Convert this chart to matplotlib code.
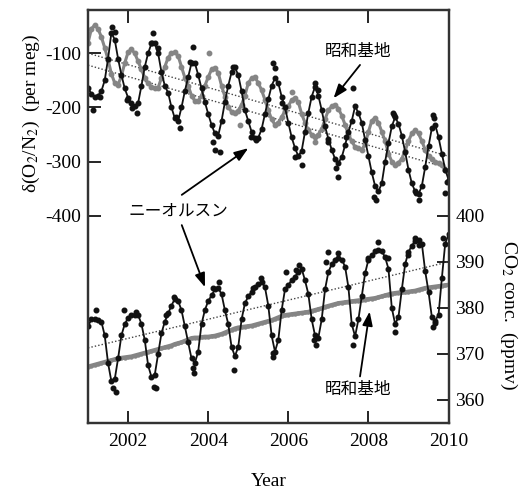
import matplotlib.pyplot as plt
import numpy as np

plt.rcParams["font.family"] = ["Liberation Serif"]
plt.rcParams["mathtext.fontset"] = "stix"
plt.rcParams["axes.unicode_minus"] = False

# monthly time axis, Jan 2001 .. Jan 2010
months = np.arange(109)
t = 2001 + months / 12

# fitted curves
ny_o2 = [
    -164, -175, -180, -178, -170, -150, -110, -62, -75, -110, -140, -165,
    -182, -192, -198, -192, -160, -125, -100, -82, -82, -100, -135, -160,
    -173, -200, -220, -225, -200, -170, -144, -118, -118, -140, -165, -190,
    -212, -232, -248, -252, -225, -190, -160, -135, -126, -140, -170, -205,
    -225, -245, -256, -256, -240, -212, -185, -160, -146, -155, -180, -200,
    -228, -255, -275, -290, -280, -245, -210, -180, -162, -178, -205, -235,
    -258, -278, -295, -302, -292, -270, -245, -225, -198, -210, -228, -260,
    -290, -320, -345, -355, -340, -300, -266, -235, -218, -230, -252, -282,
    -315, -340, -355, -360, -345, -310, -272, -238, -232, -255, -285, -315,
    -333,
]
syowa_o2 = [
    -81, -55, -48, -55, -70, -90, -112, -138, -155, -158, -142, -118,
    -98, -93, -100, -115, -130, -145, -155, -162, -164, -164, -145, -125,
    -108, -100, -98, -105, -125, -145, -160, -178, -188, -188, -178, -160,
    -144, -130, -127, -136, -160, -180, -199, -208, -210, -206, -195, -178,
    -155, -146, -144, -155, -168, -186, -205, -222, -232, -228, -218, -206,
    -198, -186, -183, -190, -212, -228, -242, -250, -254, -250, -240, -222,
    -205, -198, -195, -202, -215, -232, -250, -262, -273, -275, -278, -268,
    -245, -225, -219, -228, -245, -262, -285, -300, -306, -302, -295, -280,
    -262, -248, -242, -248, -262, -278, -290, -296, -300, -303, -307, -315,
    -321,
]
ny_co2 = [
    376.0, 377.5, 377.6, 377.4, 377.0, 374.0, 368.0, 364.0, 364.5, 369.0, 374.0, 376.5,
    377.8, 378.5, 378.5, 378.5, 376.5, 373.0, 367.5, 365.0, 365.5, 370.0, 374.5, 377.0,
    378.8, 380.5, 382.0, 381.5, 379.5, 376.0, 372.5, 369.0, 368.0, 370.5, 376.5, 379.5,
    381.5, 382.7, 384.0, 384.3, 383.0, 379.5, 376.5, 371.5, 369.5, 371.5, 377.5, 381.0,
    382.5, 383.5, 384.5, 385.2, 385.7, 384.5, 380.5, 374.0, 370.5, 373.0, 379.5, 384.0,
    385.0, 386.0, 386.8, 387.8, 388.5, 386.0, 383.0, 377.5, 374.0, 373.5, 377.5, 384.0,
    387.8, 389.5, 390.4, 390.9, 390.5, 389.0, 384.5, 376.5, 373.8, 377.5, 382.5, 387.5,
    390.5, 391.5, 392.3, 392.6, 392.3, 391.0, 388.5, 380.0, 376.5, 378.0, 384.0, 389.5,
    392.2, 393.5, 394.6, 394.7, 394.0, 388.0, 383.5, 378.0, 377.2, 378.5, 386.5, 394.0,
    396.0,
]
syowa_co2 = [
    367.2, 367.4, 367.6, 367.8, 368.0, 368.2, 368.4, 368.6, 368.8, 369.0, 369.1, 369.2,
    369.3, 369.4, 369.6, 369.8, 370.0, 370.2, 370.4, 370.6, 370.8, 371.0, 371.2, 371.4,
    371.6, 371.8, 372.1, 372.3, 372.5, 372.8, 373.1, 373.4, 373.5, 373.5, 373.6, 373.7,
    373.7, 373.8, 373.9, 374.1, 374.3, 374.6, 374.9, 375.2, 375.5, 375.7, 375.8, 375.9,
    376.0, 376.1, 376.3, 376.5, 376.7, 376.9, 377.1, 377.3, 377.6, 377.9, 378.2, 378.4,
    378.5, 378.6, 378.7, 378.8, 378.9, 379.0, 379.1, 379.3, 379.5, 379.7, 379.9, 380.2,
    380.4, 380.6, 380.8, 381.0, 381.1, 381.2, 381.3, 381.4, 381.5, 381.6, 381.7, 381.8,
    381.9, 382.0, 382.1, 382.3, 382.5, 382.7, 382.9, 383.1, 383.2, 383.3, 383.4, 383.4,
    383.5, 383.6, 383.7, 383.9, 384.1, 384.3, 384.4, 384.5, 384.6, 384.7, 384.8, 384.9,
    385.0,
]

# flask samples that stand off the curves
ny_o2_obs_t = [2001.12, 2001.3, 2001.6, 2001.67, 2001.97, 2002.1, 2002.22, 2002.59,
               2002.62, 2002.75, 2003.2, 2003.29, 2003.54, 2003.62, 2004.12, 2004.17,
               2004.29, 2004.61, 2005.08, 2005.2, 2005.63, 2005.66, 2005.83, 2006.16,
               2006.33, 2006.66, 2006.75, 2007.0, 2007.2, 2007.25, 2007.45, 2007.62,
               2008.15, 2008.2, 2008.62, 2008.65, 2009.2, 2009.25, 2009.62, 2009.64,
               2009.9, 2009.95]
ny_o2_obs = [-205, -181, -52, -61, -186, -201, -210, -81, -62, -90, -217, -238,
             -116, -88, -263, -278, -282, -125, -254, -260, -118, -127, -192, -291,
             -306, -155, -168, -264, -312, -328, -254, -164, -365, -371, -211, -214,
             -358, -371, -214, -220, -358, -337]
syowa_o2_obs_t = [2004.02, 2006.1, 2004.79, 2006.66]
syowa_o2_obs = [-99, -171, -232, -263]
ny_co2_obs_t = [2001.2, 2001.9, 2001.62, 2001.7, 2002.2, 2002.64, 2002.69, 2002.94,
                2003.14, 2003.61, 2003.64, 2004.11, 2004.26, 2004.64, 2005.11, 2005.31,
                2005.61, 2005.63, 2005.93, 2006.18, 2006.26, 2006.63, 2006.68, 2006.93,
                2007.0, 2007.23, 2007.62, 2008.0, 2008.25, 2008.5, 2008.67, 2009.0,
                2009.17, 2009.25, 2009.62, 2009.67, 2009.87]
ny_co2_obs = [379.6, 379.6, 362.6, 361.7, 379.1, 362.8, 362.6, 378.5, 382.4, 367.0,
              365.9, 384.3, 385.6, 366.5, 384.3, 386.5, 370.2, 369.3, 387.8, 388.3,
              389.3, 373.0, 372.0, 390.0, 392.2, 392.0, 372.0, 390.9, 394.3, 390.9,
              374.8, 391.5, 395.2, 393.7, 375.9, 376.7, 395.2]

# linear trends, start and end values
trend_t = [2001, 2010]
ny_o2_trend = [-122, -312]
syowa_o2_trend = [-100, -290]
ny_co2_trend = [371.3, 390.0]

year_ticks = [2002, 2004, 2006, 2008, 2010]
o2_ticks = [-100, -200, -300, -400]
co2_ticks = [360, 370, 380, 390, 400]

black = "#111111"
gray = "#858585"
jp = ["Noto Sans CJK JP", "DejaVu Sans"]

fig = plt.figure(figsize=(5.24, 4.94), dpi=100)
ax = fig.add_axes([0.168, 0.144, 0.688, 0.836])
ax2 = ax.twinx()

# O2/N2
ax.plot(trend_t, syowa_o2_trend, ls=(0, (1, 1.5)), lw=1.0, color="#444444")
ax.plot(trend_t, ny_o2_trend, ls=(0, (1, 1.5)), lw=1.0, color="#444444")
ax.plot(t, syowa_o2, color=gray, lw=2.2, marker="o", ms=3.2)
ax.plot(syowa_o2_obs_t, syowa_o2_obs, "o", color=gray, ms=3.2)
ax.plot(t, ny_o2, color=black, lw=1.3, marker="o", ms=3.3)
ax.plot(ny_o2_obs_t, ny_o2_obs, "o", color=black, ms=3.3)

# CO2
ax2.plot(trend_t, ny_co2_trend, ls=(0, (1, 1.5)), lw=1.0, color="#444444")
ax2.plot(t, syowa_co2, color=gray, lw=3.2, marker="o", ms=2.2)
ax2.plot(t, ny_co2, color=black, lw=1.3, marker="o", ms=3.3)
ax2.plot(ny_co2_obs_t, ny_co2_obs, "o", color=black, ms=3.3)

ax.set_xlim(2001, 2010)
ax.set_ylim(-782, -20)
ax2.set_ylim(355, 444.8)

ax.set_xticks(year_ticks)
ax.set_yticks(o2_ticks)
ax2.set_yticks(co2_ticks)

for a in (ax, ax2):
    a.tick_params(direction="in", length=9, width=1.2, labelsize=14, pad=5)
    for s in a.spines.values():
        s.set_linewidth(1.6)
        s.set_color("#333333")
ax.tick_params(axis="x", top=True, pad=7)

ax.set_xlabel("Year", fontsize=14, va="center")
ax.xaxis.set_label_coords(0.5, -0.143)
ax.set_ylabel(r"δ(O$_2$/N$_2$)  (per meg)", fontsize=14, va="center")
ax.yaxis.set_label_coords(-0.157, 0.749)
ax2.set_ylabel(r"CO$_2$ conc.  (ppmv)", fontsize=14, rotation=270, va="center")
ax2.yaxis.set_label_coords(1.166, 0.261)

arrow = dict(arrowstyle="-|>,head_length=0.6,head_width=0.22", lw=1.3,
             color="black", shrinkA=0, shrinkB=0, mutation_scale=14)

ax.text(2007.75, -97.6, "昭和基地", family=jp, fontsize=12, ha="center", va="center")
ax.annotate("", xy=(2007.13, -183), xytext=(2007.79, -121.6), arrowprops=arrow)

ax.text(2003.26, -392, "ニーオルスン", family=jp, fontsize=12, ha="center", va="center")
ax.annotate("", xy=(2005.0, -275.2), xytext=(2003.34, -361.3), arrowprops=arrow)
ax2.annotate("", xy=(2003.92, 384.5), xytext=(2003.34, 398.0), arrowprops=arrow)

ax2.text(2007.75, 362.3, "昭和基地", family=jp, fontsize=12, ha="center", va="center")
ax2.annotate("", xy=(2008.03, 379.2), xytext=(2007.79, 365.1), arrowprops=arrow)

fig.savefig("out.png", dpi=100)
